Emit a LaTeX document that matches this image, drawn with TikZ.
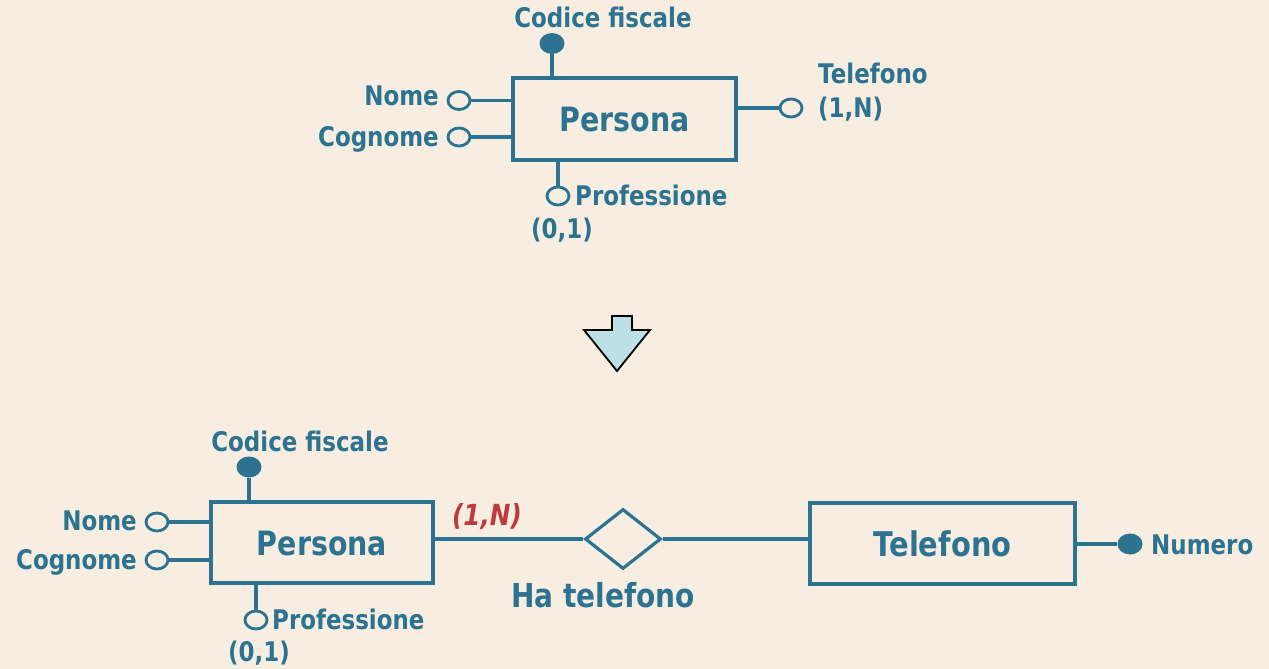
\documentclass[tikz,border=0pt]{standalone}
\usepackage{fontspec}
\setmainfont{DejaVu Sans}[FakeStretch=0.85]
\usetikzlibrary{shapes.geometric}
\definecolor{bg}{HTML}{F7EDE0}
\definecolor{erblue}{HTML}{2B7391}
\definecolor{erred}{HTML}{C0393B}
\definecolor{arrowfill}{HTML}{BDE0E4}
\tikzset{
  entity/.style={draw=erblue, line width=3.2pt, inner sep=0pt, text=erblue},
  attr/.style={ellipse, draw=erblue, line width=2.8pt, fill=bg, minimum width=22pt, minimum height=18pt, inner sep=0pt},
  keyattr/.style={ellipse, fill=erblue, minimum width=25pt, minimum height=21pt, inner sep=0pt},
  lbl/.style={text=erblue, inner sep=0pt, font=\bfseries\fontsize{27}{31}\selectfont},
  big/.style={font=\bfseries\fontsize{33.5}{38}\selectfont},
  conn/.style={draw=erblue, line width=3.2pt},
  rel/.style={diamond, draw=erblue, line width=3.2pt, minimum width=76pt, minimum height=60pt, aspect=1.27, inner sep=0pt},
}
\begin{document}
\begin{tikzpicture}[x=1pt,y=-1pt]
\fill[bg] (0,0) rectangle (1269,669);
\useasboundingbox (0,0) rectangle (1269,669);

% ---------- top diagram ----------
\node[entity, minimum width=223pt, minimum height=82pt] (p1) at (624.5,119) {};
\node[lbl, big, anchor=base] (p1t) at (624.5,131) {Persona};

\node[keyattr] (cf1) at (552,43.5) {};
\node[lbl, anchor=base] (cf1t) at (603,28) {Codice fiscale};
\draw[conn] (cf1) -- (cf1 |- p1.north);

\node[attr] (n1) at (459,100.5) {};
\node[lbl, anchor=base east] (n1t) at (439,106) {Nome};
\draw[conn] (n1) -- (n1 -| p1.west);

\node[attr] (c1) at (459,137) {};
\node[lbl, anchor=base east] (c1t) at (439,146) {Cognome};
\draw[conn] (c1) -- (c1 -| p1.west);

\node[attr] (t1) at (791,108) {};
\node[lbl, anchor=base west] (t1t) at (818,84) {Telefono};
\node[lbl, anchor=base west] (t1c) at (818,117) {(1,N)};
\draw[conn] (t1) -- (t1 -| p1.east);

\node[attr] (pr1) at (558,196) {};
\node[lbl, anchor=base west] (pr1t) at (575,205) {Professione};
\node[lbl, anchor=base] (pr1c) at (562,238) {(0,1)};
\draw[conn] (pr1) -- (pr1 |- p1.south);

% ---------- arrow ----------
\draw[line width=1.8pt, fill=arrowfill, line join=miter]
  (612,316) -- (632,316) -- (632,330) -- (650,330) -- (617,371) -- (584,330) -- (612,330) -- cycle;

% ---------- bottom diagram ----------
\node[entity, minimum width=222pt, minimum height=81pt] (p2) at (322,542.5) {};
\node[lbl, big, anchor=base] (p2t) at (322,555) {Persona};

\node[keyattr] (cf2) at (249,467) {};
\node[lbl, anchor=base] (cf2t) at (300,451) {Codice fiscale};
\draw[conn] (cf2) -- (cf2 |- p2.north);

\node[attr] (n2) at (157,522) {};
\node[lbl, anchor=base east] (n2t) at (137,530) {Nome};
\draw[conn] (n2) -- (n2 -| p2.west);

\node[attr] (c2) at (157,560) {};
\node[lbl, anchor=base east] (c2t) at (137,569) {Cognome};
\draw[conn] (c2) -- (c2 -| p2.west);

\node[attr] (pr2) at (256,620) {};
\node[lbl, anchor=base west] (pr2t) at (272,629) {Professione};
\node[lbl, anchor=base] (pr2c) at (259,661) {(0,1)};
\draw[conn] (pr2) -- (pr2 |- p2.south);

\node[rel] (ht) at (623,539) {};
\node[lbl, font=\bfseries\fontsize{33}{38}\selectfont, anchor=base] (htt) at (603,607) {Ha telefono};

\node[entity, minimum width=265pt, minimum height=81pt] (tel) at (942.5,543.5) {};
\node[lbl, font=\bfseries\fontsize{34}{38}\selectfont, anchor=base] (telt) at (942.5,556) {Telefono};

\coordinate (pe) at (p2.east |- ht);
\draw[conn] (pe) -- (ht.west);
\draw[conn] (ht.east) -- (ht -| tel.west);
\node[lbl, text=erred, font=\bfseries\itshape\fontsize{29}{33}\selectfont, anchor=base] (card) at (487,525) {(1,N)};

\node[keyattr] (num) at (1130,544) {};
\node[lbl, font=\bfseries\fontsize{27}{31}\selectfont, anchor=base west] (numt) at (1151,554) {Numero};
\draw[conn] (num) -- (num -| tel.east);
\end{tikzpicture}
\end{document}
